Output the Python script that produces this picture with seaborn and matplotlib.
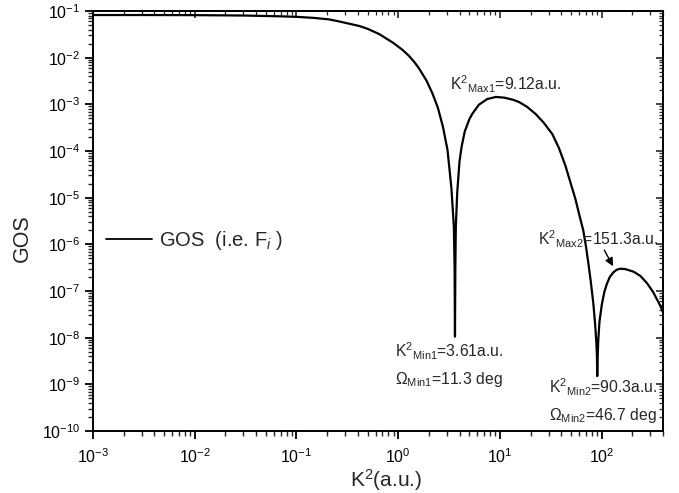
import matplotlib
matplotlib.use("Agg")
import matplotlib.pyplot as plt
import seaborn as sns
import numpy as np
import pandas as pd

# ---- data ----
k2 = [0.001, 0.003, 0.01, 0.03, 0.068, 0.1, 0.15, 0.21, 0.26, 0.41, 0.5, 0.65, 0.9,
      1.1, 1.27, 1.45, 1.6, 1.9, 2.16, 2.45, 2.75, 3.05, 3.33, 3.52, 3.58, 3.61,
      3.64, 3.68, 3.80, 4.0, 4.2, 4.5, 5.0, 5.35, 6.2, 7.5, 9.12, 11.0,
      13.5, 15.4, 18.5, 22.4, 27.0, 32.7, 38.0, 44.0, 50.0, 55.0, 60.0,
      65.8, 70.0, 73.8, 78.0, 82.6, 86.0, 88.5, 89.7, 90.3, 91.0, 92.5,
      95.0, 100.0, 106.0, 112.0, 120.0, 130.0, 140.0, 151.3, 170.0, 205.0,
      240.0, 278.0, 320.0, 377.0, 400.0]
gos = [0.082, 0.082, 0.0815, 0.080, 0.077, 0.075, 0.071, 0.066, 0.060, 0.048, 0.0415, 0.032, 0.0205,
       0.0147, 0.0110, 0.0079, 0.0059, 0.0032, 0.00174, 8.5e-4, 3.3e-4, 1.05e-4, 1.6e-5, 2.4e-6, 3.0e-7, 1.05e-8,
       3.0e-7, 2.4e-6, 1.3e-5, 6.0e-5, 1.25e-4, 2.6e-4, 4.8e-4, 6.3e-4, 9.8e-4, 1.3e-3, 1.44e-3, 1.39e-3,
       1.25e-3, 1.12e-3, 8.8e-4, 6.2e-4, 4.0e-4, 2.3e-4, 1.15e-4, 4.8e-5, 1.9e-5, 9.5e-6, 4.4e-6,
       2.0e-6, 9.0e-7, 4.0e-7, 1.6e-7, 5.5e-8, 2.0e-8, 8.0e-9, 4.0e-9, 1.5e-9, 3.5e-9, 9.0e-9,
       2.2e-8, 5.0e-8, 9.5e-8, 1.4e-7, 2.0e-7, 2.5e-7, 2.85e-7, 3.0e-7, 2.95e-7, 2.6e-7,
       2.1e-7, 1.48e-7, 9.5e-8, 4.8e-8, 3.5e-8]
legend_label = "GOS  (i.e. F$_{i}$ )"
annotations = [
    ("K$^{2}$$_{\\rm Max1}$=9.12a.u.", 0.626, 0.810),
    ("K$^{2}$$_{\\rm Max2}$=151.3a.u.", 0.780, 0.443),
    ("K$^{2}$$_{\\rm Min1}$=3.61a.u.", 0.530, 0.176),
    ("Ω$_{\\rm Min1}$=11.3 deg", 0.530, 0.113),
    ("K$^{2}$$_{\\rm Min2}$=90.3a.u.", 0.800, 0.089),
    ("Ω$_{\\rm Min2}$=46.7 deg", 0.800, 0.026),
]

df = pd.DataFrame({"K2": k2, "GOS": gos})

sns.set_style("ticks")
plt.rcParams["font.family"] = ["Liberation Sans", "DejaVu Sans"]
plt.rcParams["mathtext.fontset"] = "custom"
plt.rcParams["mathtext.rm"] = "Liberation Sans"
plt.rcParams["mathtext.it"] = "Liberation Sans:italic"
plt.rcParams["mathtext.bf"] = "Liberation Sans:bold"

fig = plt.figure(figsize=(6.79, 4.93), dpi=100)
ax = fig.add_axes([93 / 679, 62 / 493, 570 / 679, 420 / 493])

sns.lineplot(data=df, x="K2", y="GOS", ax=ax, color="black", linewidth=1.6,
             label=legend_label, sort=False)

ax.set_xscale("log")
ax.set_yscale("log")
ax.set_xlim(1e-3, 400)
ax.set_ylim(1e-10, 1e-1)

ax.xaxis.set_major_locator(matplotlib.ticker.LogLocator(base=10, numticks=20))
ax.xaxis.set_minor_locator(matplotlib.ticker.LogLocator(base=10, subs=np.arange(2, 10), numticks=100))
ax.yaxis.set_major_locator(matplotlib.ticker.LogLocator(base=10, numticks=20))
ax.yaxis.set_minor_locator(matplotlib.ticker.LogLocator(base=10, subs=np.arange(2, 10), numticks=100))
ax.xaxis.set_minor_formatter(matplotlib.ticker.NullFormatter())
ax.yaxis.set_minor_formatter(matplotlib.ticker.NullFormatter())

for s in ax.spines.values():
    s.set_linewidth(1.4)
    s.set_color("black")
    s.set_visible(True)

ax.tick_params(axis="both", which="major", direction="out", length=6, width=1.3,
               labelsize=11.5, colors="black")
ax.tick_params(axis="both", which="minor", direction="out", length=3.5, width=1.0)
ax.tick_params(axis="x", which="major", pad=6)
ax.tick_params(axis="y", which="major", pad=3)

# mirrored inward ticks on top and right
secx = ax.secondary_xaxis("top")
secx.xaxis.set_major_locator(matplotlib.ticker.LogLocator(base=10, numticks=20))
secx.xaxis.set_minor_locator(matplotlib.ticker.LogLocator(base=10, subs=np.arange(2, 10), numticks=100))
secx.tick_params(which="major", direction="in", length=5, width=1.2, labeltop=False)
secx.tick_params(which="minor", direction="in", length=3, width=0.9)
secx.spines["top"].set_linewidth(1.4)
secy = ax.secondary_yaxis("right")
secy.yaxis.set_major_locator(matplotlib.ticker.LogLocator(base=10, numticks=20))
secy.yaxis.set_minor_locator(matplotlib.ticker.LogLocator(base=10, subs=np.arange(2, 10), numticks=100))
secy.tick_params(which="major", direction="in", length=5, width=1.2, labelright=False)
secy.tick_params(which="minor", direction="in", length=3, width=0.9)
secy.spines["right"].set_linewidth(1.4)

ax.set_xlabel("")
ax.set_ylabel("GOS", fontsize=15.5)
ax.yaxis.set_label_coords(-0.105, 0.46)
fig.text(386 / 679, 1 - 487 / 493, "K$^{2}$(a.u.)", fontsize=15, ha="center", va="baseline")

for txt, xf, yf in annotations:
    ax.text(xf, yf, txt, transform=ax.transAxes, fontsize=11.3, ha="left", va="baseline")

ax.annotate("", xy=(129, 3.4e-7), xytext=(106, 7.5e-7), xycoords="data",
            arrowprops=dict(arrowstyle="-|>", color="black", lw=1.0, mutation_scale=12,
                            shrinkA=0, shrinkB=0))

leg = ax.legend(loc="center left", bbox_to_anchor=(0.0228, 0.453), frameon=False,
                fontsize=14.5, handlelength=2.3, handletextpad=0.33,
                borderaxespad=0, borderpad=0)
for line in leg.get_lines():
    line.set_linewidth(1.3)

fig.savefig("out.png", dpi=100)
